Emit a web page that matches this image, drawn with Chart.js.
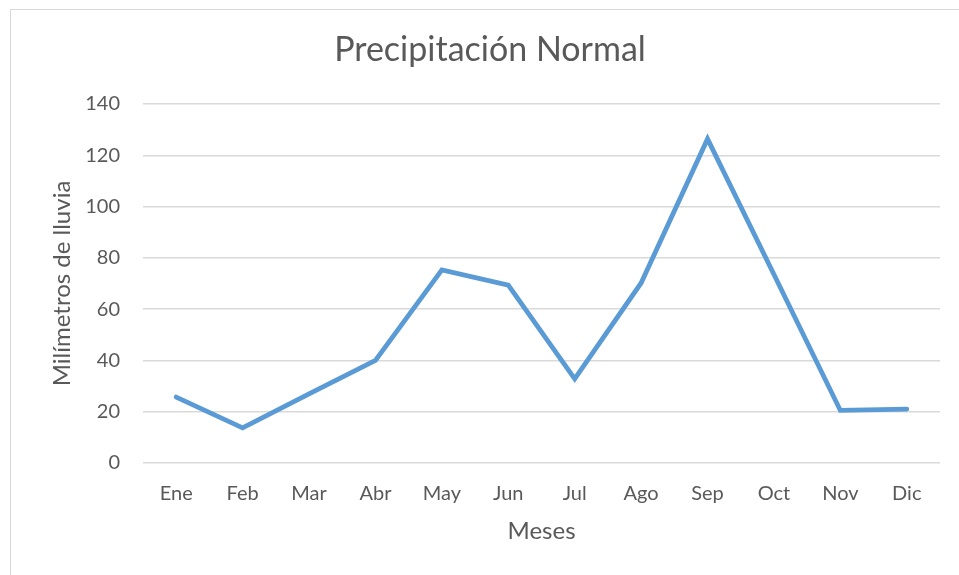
<!DOCTYPE html>
<html>
<head>
<meta charset="utf-8">
<script src="https://cdn.jsdelivr.net/npm/chart.js@4/dist/chart.umd.min.js"></script>
<style>
  html, body { margin: 0; padding: 0; background: #fff; overflow: hidden; }
  #wrap { position: relative; width: 959px; height: 575px; }
  #frame { position: absolute; left: 10px; top: 9px; width: 1000px; height: 1000px; border: 1.5px solid #d9d9d9; }
  canvas { position: absolute; left: 0; top: 0; }
</style>
</head>
<body>
<div id="wrap">
  <div id="frame"></div>
  <canvas id="chart" width="959" height="575"></canvas>
</div>
<script>
// datos
const meses = ['Ene', 'Feb', 'Mar', 'Abr', 'May', 'Jun', 'Jul', 'Ago', 'Sep', 'Oct', 'Nov', 'Dic'];
const lluvia = [25.7, 13.7, 27, 40, 75.3, 69.4, 32.8, 70.2, 126.4, 73.5, 20.5, 21];
const yMax = 140;
const yStep = 20;
const titulo = 'Precipitación Normal';

const textColor = '#595959';
const gridColor = '#d9d9d9';
const fontFamily = 'Lato, "Open Sans", sans-serif';

// título dibujado a mano, centrado como en Excel (sobre todo el marco)
const chartTitle = {
  id: 'chartTitle',
  afterDraw(chart) {
    const c = chart.ctx;
    c.save();
    c.fillStyle = textColor;
    c.font = `34px ${fontFamily}`;
    c.textAlign = 'center';
    c.textBaseline = 'middle';
    c.fillText(titulo, 490, 50);
    c.restore();
  },
};

const ctx = document.getElementById('chart').getContext('2d');

new Chart(ctx, {
  type: 'line',
  data: {
    labels: meses,
    datasets: [{
      data: lluvia,
      borderColor: '#5B9BD5',
      borderWidth: 4.8,
      borderCapStyle: 'round',
      borderJoinStyle: 'miter',
      pointRadius: 0,
      tension: 0,
      fill: false,
    }],
  },
  options: {
    responsive: false,
    animation: false,
    devicePixelRatio: 1,
    layout: {
      padding: { left: 0, right: 19, top: 104, bottom: 0 },
    },
    scales: {
      x: {
        type: 'category',
        offset: true,
        grid: { display: false, drawTicks: false },
        border: { display: false },
        ticks: {
          color: textColor,
          font: { family: fontFamily, size: 20 },
          padding: 19,
          maxRotation: 0,
          autoSkip: false,
        },
        title: {
          display: true,
          text: 'Meses',
          color: textColor,
          font: { family: fontFamily, size: 24 },
          padding: { top: 0, bottom: 29 },
        },
        afterFit: (scale) => { scale.height = 112; },
      },
      y: {
        min: 0,
        max: yMax,
        ticks: {
          stepSize: yStep,
          color: textColor,
          font: { family: fontFamily, size: 20 },
          padding: 23,
        },
        grid: { color: gridColor, lineWidth: 1.5, drawTicks: false },
        border: { display: false },
        title: {
          display: true,
          text: 'Milímetros de lluvia',
          color: textColor,
          font: { family: fontFamily, size: 24 },
          padding: { top: 48, bottom: 0 },
        },
        afterFit: (scale) => { scale.width = 143; },
      },
    },
    plugins: {
      legend: { display: false },
      tooltip: { enabled: false },
      title: { display: false },
    },
  },
  plugins: [chartTitle],
});
</script>
</body>
</html>
